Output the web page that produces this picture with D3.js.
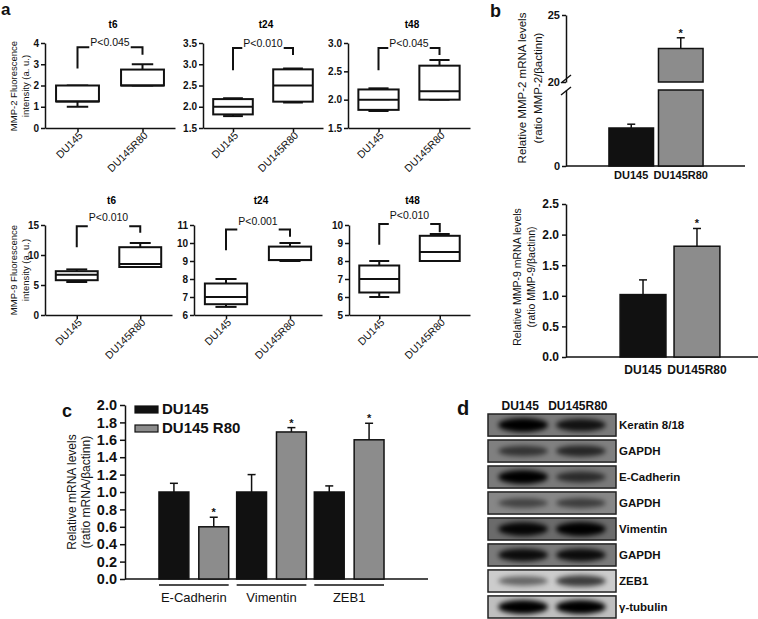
<!DOCTYPE html>
<html>
<head>
<meta charset="utf-8">
<script src="https://cdn.jsdelivr.net/npm/d3@7"></script>
<style>
body { margin: 0; background: #fff; }
svg { font-family: "Liberation Sans", Arial, sans-serif; }
.axis path, .axis line { stroke: #111; stroke-width: 1.5px; }
.axis text { fill: #111; font-weight: bold; }
</style>
</head>
<body>
<svg width="758" height="619"></svg>
<script>
// ---- data ----
const cellLines = ["DU145", "DU145R80"];
const timePoints = ["t6", "t24", "t48"];

// panel a, MMP-2 fluorescence: [min, q1, median, q3, max]
const mmp2Pvalues = ["P<0.045", "P<0.010", "P<0.045"];
const mmp2Domains = [[0, 4], [1.5, 3.5], [1.5, 3.0]];
const mmp2Ticks = [[0, 1, 2, 3, 4], [1.5, 2.0, 2.5, 3.0, 3.5], [1.5, 2.0, 2.5, 3.0]];
const mmp2DU145 = [[1.0, 1.25, 1.25, 2.0, 2.0], [1.78, 1.82, 2.0, 2.18, 2.2], [1.8, 1.82, 2.0, 2.18, 2.2]];
const mmp2R80 = [[2.0, 2.0, 2.0, 2.75, 3.0], [2.1, 2.12, 2.5, 2.88, 2.9], [2.0, 2.0, 2.15, 2.6, 2.7]];
// bracket: [left start, top, right end] in data units
const mmp2Brackets = [[2.8, 3.8, 3.45], [2.86, 3.38, 3.22], [2.52, 2.91, 2.79]];

// panel a, MMP-9 fluorescence
const mmp9Pvalues = ["P<0.010", "P<0.001", "P<0.010"];
const mmp9Domains = [[0, 15], [6, 11], [5, 10]];
const mmp9Ticks = [[0, 5, 10, 15], [6, 7, 8, 9, 10, 11], [5, 6, 7, 8, 9, 10]];
const mmp9DU145 = [[5.5, 5.8, 6.7, 7.3, 7.6], [6.45, 6.6, 7.0, 7.75, 8.0], [6.0, 6.25, 7.0, 7.75, 8.0]];
const mmp9R80 = [[8.0, 8.0, 8.5, 11.3, 12.0], [9.0, 9.05, 9.05, 9.8, 10.0], [8.0, 8.0, 8.5, 9.4, 9.5]];
const mmp9Brackets = [[11.3, 14.8, 13.7], [9.6, 10.75, 10.35], [8.9, 10.05, 9.6]];

// panel b, mRNA levels
const mmp2Mrna = [1.0, 22.5];
const mmp2MrnaErr = [1.1, 23.3];
const mmp9Mrna = [1.02, 1.81];
const mmp9MrnaErr = [1.26, 2.1];

// panel c
const emtGenes = ["E-Cadherin", "Vimentin", "ZEB1"];
const emtLegend = ["DU145", "DU145 R80"];
const emtDU145 = [1.0, 1.0, 1.0];
const emtDU145Err = [1.1, 1.2, 1.07];
const emtR80 = [0.6, 1.69, 1.6];
const emtR80Err = [0.71, 1.74, 1.79];

// panel d, western blots (band darkness 0-1)
const blotTargets = ["Keratin 8/18", "GAPDH", "E-Cadherin", "GAPDH", "Vimentin", "GAPDH", "ZEB1", "γ-tubulin"];
const blotDU145 = [1.0, 0.6, 1.0, 0.5, 0.95, 0.9, 0.5, 1.0];
const blotR80 = [0.85, 0.7, 0.65, 0.55, 1.0, 0.9, 0.7, 1.0];
const blotMembrane = [0.52, 0.5, 0.52, 0.47, 0.58, 0.52, 0.2, 0.25];

const black = "#111";
const grey = "#8c8c8c";
const svg = d3.select("svg");

function fmtFor(ticks) {
    return ticks.every(Number.isInteger) ? d3.format("d") : d3.format(".1f");
}

function boxPlot(cfg) {
    const g = svg.append("g");
    const x = d3.scalePoint().domain(cellLines).range([cfg.x0, cfg.x1]).padding(0.5);
    const y = d3.scaleLinear().domain(cfg.domain).range([cfg.yb, cfg.yt]);

    g.append("g").attr("class", "axis")
        .attr("transform", `translate(${cfg.x0},0)`)
        .call(d3.axisLeft(y).tickValues(cfg.ticks).tickFormat(fmtFor(cfg.ticks))
            .tickSize(4).tickSizeOuter(0).tickPadding(2))
        .selectAll("text").style("font-size", "10px");

    g.append("g").attr("class", "axis")
        .attr("transform", `translate(0,${cfg.yb})`)
        .call(d3.axisBottom(x).tickSize(4).tickSizeOuter(0).tickFormat(""));

    cellLines.forEach(c => {
        g.append("text")
            .attr("transform", `translate(${x(c) + 6},${cfg.yb + 8}) rotate(-45)`)
            .attr("text-anchor", "end")
            .style("font-size", "10.5px")
            .attr("fill", black)
            .text(c);
    });

    g.append("text")
        .attr("x", (cfg.x0 + cfg.x1) / 2 + 3).attr("y", cfg.titleY)
        .attr("text-anchor", "middle")
        .style("font-size", "10px").style("font-weight", "bold")
        .text(cfg.title);

    const w = x.step() * 0.66;
    cfg.stats.forEach((s, i) => {
        const cx = x(cellLines[i]);
        const [mn, q1, md, q3, mx] = s;
        const bg = g.append("g").attr("stroke", black).attr("stroke-width", 2).attr("fill", "none");
        bg.append("line").attr("x1", cx).attr("x2", cx).attr("y1", y(q3)).attr("y2", y(mx));
        bg.append("line").attr("x1", cx).attr("x2", cx).attr("y1", y(q1)).attr("y2", y(mn));
        bg.append("line").attr("x1", cx - w / 4).attr("x2", cx + w / 4).attr("y1", y(mx)).attr("y2", y(mx));
        bg.append("line").attr("x1", cx - w / 4).attr("x2", cx + w / 4).attr("y1", y(mn)).attr("y2", y(mn));
        bg.append("rect").attr("x", cx - w / 2).attr("width", w)
            .attr("y", y(q3)).attr("height", y(q1) - y(q3)).attr("fill", "#fff");
        bg.append("line").attr("x1", cx - w / 2).attr("x2", cx + w / 2).attr("y1", y(md)).attr("y2", y(md));
    });

    // significance bracket
    const b1 = x(cellLines[0]), b2 = x(cellLines[1]);
    const [bl, bt, br] = cfg.bracket;
    const mid = (b1 + b2) / 2;
    const pt = g.append("text")
        .attr("x", mid).attr("y", y(bt) + cfg.pShift)
        .attr("text-anchor", "middle")
        .style("font-size", "10.5px")
        .attr("fill", black)
        .text(cfg.p);
    const tw = pt.node().getComputedTextLength();
    const bk = g.append("g").attr("stroke", black).attr("stroke-width", 2).attr("fill", "none");
    bk.append("path").attr("d", `M${b1},${y(bl)}V${y(bt)}H${Math.min(b1 + 13, mid - tw / 2 - 1)}`);
    bk.append("path").attr("d", `M${Math.max(b2 - 13, mid + tw / 2 + 1)},${y(bt)}H${b2}V${y(br)}`);
}

// ---- panel a ----
const topRow = [[45, 175], [203, 323], [348, 470]];
const botRow = [[45, 172], [194, 322], [349, 470]];
timePoints.forEach((t, i) => {
    boxPlot({
        x0: topRow[i][0], x1: topRow[i][1], yb: 128, yt: 43,
        domain: mmp2Domains[i], ticks: mmp2Ticks[i], title: t, titleY: 28,
        stats: [mmp2DU145[i], mmp2R80[i]], bracket: mmp2Brackets[i], p: mmp2Pvalues[i], pShift: -1
    });
    boxPlot({
        x0: botRow[i][0], x1: botRow[i][1], yb: 315, yt: 225,
        domain: mmp9Domains[i], ticks: mmp9Ticks[i], title: t, titleY: 204,
        stats: [mmp9DU145[i], mmp9R80[i]], bracket: mmp9Brackets[i], p: mmp9Pvalues[i], pShift: -5
    });
});

function vLabel(x, y, size, lines, gap) {
    lines.forEach((l, i) => {
        svg.append("text")
            .attr("transform", `translate(${x + i * gap},${y}) rotate(-90)`)
            .attr("text-anchor", "middle")
            .style("font-size", size + "px")
            .attr("fill", black)
            .text(l);
    });
}
vLabel(17, 86, 9.5, ["MMP-2 Fluorescence", "intensity (a. u.)"], 12);
vLabel(17, 270, 9.5, ["MMP-9 Fluorescence", "intensity (a. u.)"], 12);

function panelLetter(x, y, size, t) {
    svg.append("text").attr("x", x).attr("y", y)
        .style("font-size", size + "px").style("font-weight", "bold").attr("fill", black).text(t);
}
panelLetter(1, 15, 17, "a");
panelLetter(490, 17, 18, "b");
panelLetter(62, 417, 18, "c");
panelLetter(457, 415, 20, "d");

function errBar(g, cx, yTop, yErr, star) {
    g.append("line").attr("x1", cx).attr("x2", cx).attr("y1", yTop).attr("y2", yErr)
        .attr("stroke", black).attr("stroke-width", 1.5);
    g.append("line").attr("x1", cx - 4).attr("x2", cx + 4).attr("y1", yErr).attr("y2", yErr)
        .attr("stroke", black).attr("stroke-width", 1.5);
    if (star) {
        g.append("text").attr("x", cx).attr("y", yErr - 1).attr("text-anchor", "middle")
            .style("font-size", "11px").style("font-weight", "bold").attr("fill", black).text("*");
    }
}

// ---- panel b, top (broken axis) ----
{
    const g = svg.append("g");
    const x = d3.scaleBand().domain(cellLines).range([604, 708]).padding(0.1);
    const yLow = d3.scaleLinear().domain([0, 2]).range([166, 90]);
    const yHigh = d3.scaleLinear().domain([20, 25]).range([82, 15]);
    g.append("g").attr("class", "axis").attr("transform", "translate(566,0)")
        .call(d3.axisLeft(yHigh).tickValues([20, 25]).tickFormat(d3.format("d"))
            .tickSize(4).tickSizeOuter(0).tickPadding(2))
        .selectAll("text").style("font-size", "11px");
    g.append("g").attr("class", "axis").attr("transform", "translate(566,0)")
        .call(d3.axisLeft(yLow).tickValues([0]).tickFormat(d3.format("d"))
            .tickSize(4).tickSizeOuter(0).tickPadding(2))
        .selectAll("text").style("font-size", "11px");
    [yHigh(20) - 3, yLow(2) + 1].forEach(yy => {
        g.append("line").attr("x1", 561).attr("x2", 571).attr("y1", yy + 4).attr("y2", yy - 4)
            .attr("stroke", black).attr("stroke-width", 1.5);
    });
    g.append("line").attr("x1", 566).attr("x2", 745).attr("y1", 166).attr("y2", 166)
        .attr("stroke", black).attr("stroke-width", 1.5);

    cellLines.forEach((c, i) => {
        const v = mmp2Mrna[i], e = mmp2MrnaErr[i];
        const fill = i === 0 ? black : grey;
        let top;
        if (v <= 2) {
            top = yLow(v);
            g.append("rect").attr("x", x(c)).attr("width", x.bandwidth())
                .attr("y", top).attr("height", yLow(0) - top)
                .attr("fill", fill).attr("stroke", black).attr("stroke-width", 1.5);
            errBar(g, x(c) + x.bandwidth() / 2, top, yLow(e), false);
        } else {
            top = yHigh(v);
            g.append("rect").attr("x", x(c)).attr("width", x.bandwidth())
                .attr("y", yLow(2)).attr("height", yLow(0) - yLow(2))
                .attr("fill", fill).attr("stroke", black).attr("stroke-width", 1.5);
            g.append("rect").attr("x", x(c)).attr("width", x.bandwidth())
                .attr("y", top).attr("height", yHigh(20) - top)
                .attr("fill", fill).attr("stroke", black).attr("stroke-width", 1.5);
            errBar(g, x(c) + x.bandwidth() / 2, top, yHigh(e), true);
        }
        g.append("text").attr("x", x(c) + x.bandwidth() / 2).attr("y", 179)
            .attr("text-anchor", "middle").style("font-size", "11px").style("font-weight", "bold")
            .attr("fill", black).text(c);
    });
    vLabel(526, 88, 11.5, ["Relative MMP-2 mRNA levels", "(ratio MMP-2/βactinn)"], 16);
}

// ---- panel b, bottom ----
{
    const g = svg.append("g");
    const x = d3.scaleBand().domain(cellLines).range([612, 728]).padding(0.15);
    const y = d3.scaleLinear().domain([0, 2.5]).range([357, 204]);
    g.append("g").attr("class", "axis").attr("transform", "translate(566,0)")
        .call(d3.axisLeft(y).ticks(5).tickFormat(d3.format(".1f")).tickSize(4).tickSizeOuter(0).tickPadding(3))
        .selectAll("text").style("font-size", "12px");
    g.append("line").attr("x1", 566).attr("x2", 758).attr("y1", 357).attr("y2", 357)
        .attr("stroke", black).attr("stroke-width", 1.5);
    cellLines.forEach((c, i) => {
        g.append("rect").attr("x", x(c)).attr("width", x.bandwidth())
            .attr("y", y(mmp9Mrna[i])).attr("height", y(0) - y(mmp9Mrna[i]))
            .attr("fill", i === 0 ? black : grey).attr("stroke", black).attr("stroke-width", 1.5);
        errBar(g, x(c) + x.bandwidth() / 2, y(mmp9Mrna[i]), y(mmp9MrnaErr[i]), i === 1);
        g.append("text").attr("x", x(c) + x.bandwidth() / 2).attr("y", 374)
            .attr("text-anchor", "middle").style("font-size", "12px").style("font-weight", "bold")
            .attr("fill", black).text(c);
    });
    vLabel(521, 277, 10.5, ["Relative MMP-9 mRNA levels", "(ratio MMP-9/βactinn)"], 14);
}

// ---- panel c ----
{
    const g = svg.append("g");
    const x0 = d3.scaleBand().domain(emtGenes).range([155, 388]);
    const x1 = d3.scaleBand().domain(emtLegend).range([0, x0.bandwidth()]).paddingInner(0.25).paddingOuter(0.1);
    const y = d3.scaleLinear().domain([0, 2]).range([579, 405]);
    g.append("g").attr("class", "axis").attr("transform", "translate(125,0)")
        .call(d3.axisLeft(y).ticks(10).tickFormat(d3.format(".1f")).tickSize(5).tickSizeOuter(0).tickPadding(3))
        .selectAll("text").style("font-size", "14.5px");
    g.append("line").attr("x1", 125).attr("x2", 428).attr("y1", 579).attr("y2", 579)
        .attr("stroke", black).attr("stroke-width", 1.5);

    const series = [[emtDU145, emtDU145Err], [emtR80, emtR80Err]];
    emtGenes.forEach((gene, gi) => {
        series.forEach(([vals, errs], si) => {
            const bx = x0(gene) + x1(emtLegend[si]);
            g.append("rect").attr("x", bx).attr("width", x1.bandwidth())
                .attr("y", y(vals[gi])).attr("height", y(0) - y(vals[gi]))
                .attr("fill", si === 0 ? black : grey).attr("stroke", black).attr("stroke-width", 1.5);
            errBar(g, bx + x1.bandwidth() / 2, y(vals[gi]), y(errs[gi]), si === 1);
        });
        const gl = x0(gene) + x1(emtLegend[0]), gr = x0(gene) + x1(emtLegend[1]) + x1.bandwidth();
        g.append("line").attr("x1", gl).attr("x2", gr).attr("y1", 585).attr("y2", 585)
            .attr("stroke", black).attr("stroke-width", 1.5);
        g.append("text").attr("x", (gl + gr) / 2).attr("y", 602).attr("text-anchor", "middle")
            .style("font-size", "13px").attr("fill", black).text(gene);
    });

    emtLegend.forEach((name, i) => {
        g.append("rect").attr("x", 135).attr("y", 406 + i * 19).attr("width", 23).attr("height", 7)
            .attr("fill", i === 0 ? black : grey).attr("stroke", black).attr("stroke-width", 1.2);
        g.append("text").attr("x", 162).attr("y", 414 + i * 19)
            .style("font-size", "15px").style("font-weight", "bold").attr("fill", black).text(name);
    });
    vLabel(76, 492, 12, ["Relative mRNA levels", "(ratio mRNA/βactinn)"], 14);
}

// ---- panel d ----
{
    const defs = svg.append("defs");
    defs.append("filter").attr("id", "blur").attr("x", "-30%").attr("y", "-100%")
        .attr("width", "160%").attr("height", "300%")
        .append("feGaussianBlur").attr("stdDeviation", 2.6);

    const g = svg.append("g");
    const lane = d3.scalePoint().domain(cellLines).range([488, 616]).padding(0.61);
    const row = d3.scaleBand().domain(d3.range(blotTargets.length)).range([414, 618]).paddingInner(0.15);
    const lanes = [blotDU145, blotR80];

    cellLines.forEach(c => {
        g.append("text").attr("x", lane(c) - 3).attr("y", 410).attr("text-anchor", "middle")
            .style("font-size", "12px").style("font-weight", "bold").attr("fill", black).text(c);
    });

    blotTargets.forEach((name, i) => {
        const y0 = row(i), h = row.bandwidth();
        const gray = Math.round(255 * (1 - blotMembrane[i]));
        defs.append("clipPath").attr("id", "clip" + i)
            .append("rect").attr("x", 488).attr("y", y0).attr("width", 128).attr("height", h);
        const rg = g.append("g");
        rg.append("rect").attr("x", 488).attr("y", y0).attr("width", 128).attr("height", h)
            .attr("fill", d3.rgb(gray, gray, gray));
        const bands = rg.append("g").attr("clip-path", `url(#clip${i})`);
        lanes.forEach((vals, li) => {
            bands.append("ellipse")
                .attr("cx", lane(cellLines[li])).attr("cy", y0 + h / 2)
                .attr("rx", 25).attr("ry", 2.5 + vals[i] * 4.5)
                .attr("fill", "#050505").attr("opacity", vals[i])
                .attr("filter", "url(#blur)");
        });
        rg.append("rect").attr("x", 488).attr("y", y0).attr("width", 128).attr("height", h)
            .attr("fill", "none").attr("stroke", "#222").attr("stroke-width", 1.5);
        g.append("text").attr("x", 619).attr("y", y0 + h / 2).attr("dy", "0.35em")
            .style("font-size", "11.5px").style("font-weight", "bold").attr("fill", black).text(name);
    });
}
</script>
</body>
</html>
